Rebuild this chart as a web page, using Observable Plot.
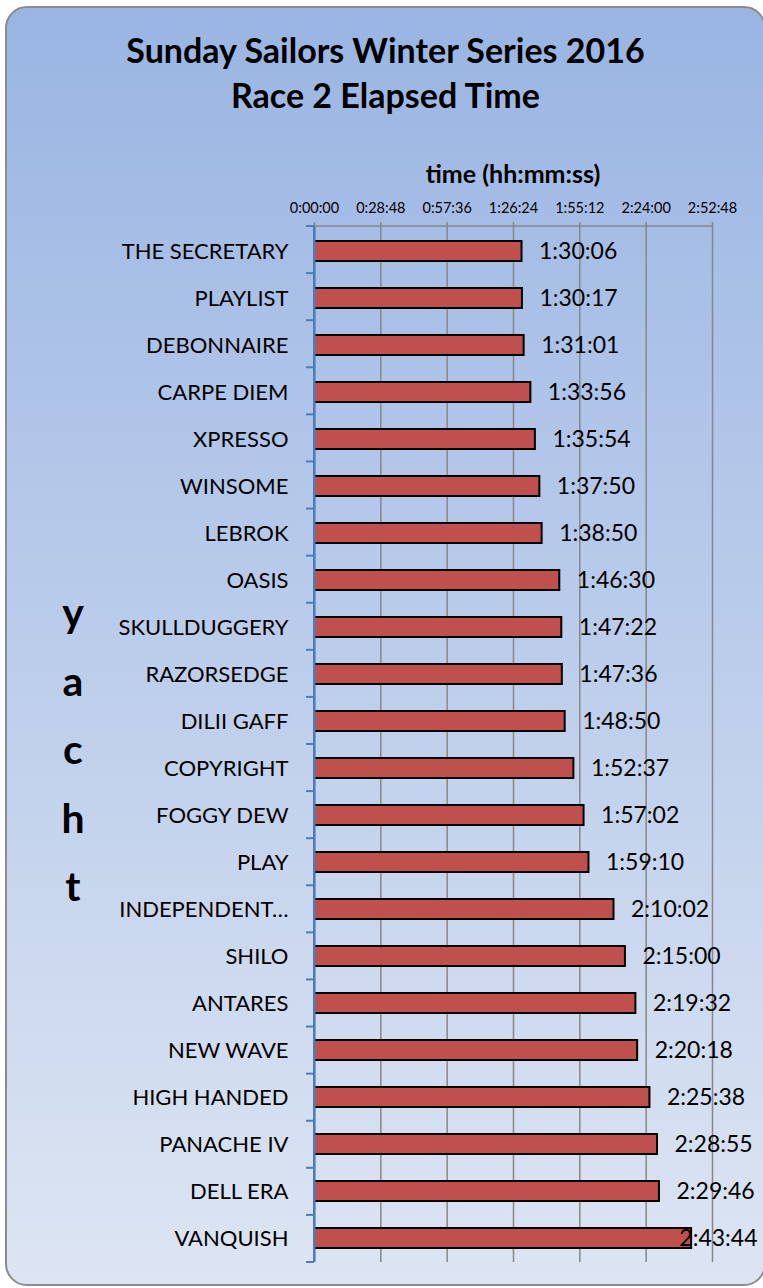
<!DOCTYPE html>
<html><head><meta charset="utf-8">
<script src="https://cdn.jsdelivr.net/npm/d3@7"></script>
<script src="https://cdn.jsdelivr.net/npm/@observablehq/plot@0.6"></script>
<style>
html,body{margin:0;padding:0;width:763px;height:1288px;overflow:hidden;background:#fff;font-family:Lato,sans-serif;color:#000;}
#card{position:absolute;left:5px;top:6px;width:761px;height:1280px;box-sizing:border-box;border:2px solid #8c8c8c;border-radius:22px;background:linear-gradient(to bottom,#9AB5E3 0%,#DDE5F3 100%);}
#title{position:absolute;left:5px;width:761px;top:27px;text-align:center;font-weight:700;font-size:34px;line-height:45px;}
#xlabel{position:absolute;left:313px;width:400px;top:158px;text-align:center;font-weight:700;font-size:25px;line-height:1.2;}
#ylabel{position:absolute;left:53px;width:40px;top:578px;text-align:center;font-weight:700;font-size:41px;line-height:68.5px;}
#chart{position:absolute;left:0;top:150px;}
</style>
</head><body>
<div id="card"></div>
<div id="title">Sunday Sailors Winter Series 2016<br>Race 2 Elapsed Time</div>
<div id="xlabel">time (hh:mm:ss)</div>
<div id="ylabel">y<br>a<br>c<br>h<br>t</div>
<div id="chart"></div>
<script>
const yachts = ["THE SECRETARY","PLAYLIST","DEBONNAIRE","CARPE DIEM","XPRESSO","WINSOME","LEBROK","OASIS","SKULLDUGGERY","RAZORSEDGE","DILII GAFF","COPYRIGHT","FOGGY DEW","PLAY","INDEPENDENT…","SHILO","ANTARES","NEW WAVE","HIGH HANDED","PANACHE IV","DELL ERA","VANQUISH"];
const times = ["1:30:06","1:30:17","1:31:01","1:33:56","1:35:54","1:37:50","1:38:50","1:46:30","1:47:22","1:47:36","1:48:50","1:52:37","1:57:02","1:59:10","2:10:02","2:15:00","2:19:32","2:20:18","2:25:38","2:28:55","2:29:46","2:43:44"];
const tickLabels = ["0:00:00","0:28:48","0:57:36","1:26:24","1:55:12","2:24:00","2:52:48"];

const toSec = s => { const [h,m,x] = s.split(":").map(Number); return h*3600 + m*60 + x; };
const tickVals = tickLabels.map(toSec);
const data = yachts.map((y,i) => ({yacht: y, label: times[i], sec: toSec(times[i])}));

const W = 763, H = 1130, mL = 314, mR = 51, mT = 76, mB = 18;
const xMax = tickVals[tickVals.length-1];
const px = s => mL + s / xMax * (W - mL - mR);
const overflow = d => px(d.sec) + 17 + 80 > W - 6;

const grid = "#878787", blue = "#4A7EBB";
const plot = Plot.plot({
  width: W, height: H,
  marginLeft: mL, marginRight: mR, marginTop: mT, marginBottom: mB,
  style: {background: "transparent", fontFamily: "Lato, sans-serif", fontSize: "22px", color: "#000"},
  x: {domain: [0, xMax]},
  y: {domain: yachts, paddingInner: 0.575, paddingOuter: 0.2875},
  marks: [
    Plot.ruleX(tickVals, {stroke: grid, strokeWidth: 1.5}),
    Plot.axisX({anchor: "top", ticks: tickVals, tickFormat: v => tickLabels[tickVals.indexOf(v)], tickSize: 5, tickPadding: 9, fontSize: 14.5, stroke: grid, strokeWidth: 1.5, color: "#000", label: null}),
    Plot.axisY({tickSize: 0, tickPadding: 26, fontSize: 22, label: null, color: "#000"}),
    Plot.barX(data, {x: "sec", y: "yacht", fill: "#C0504D", stroke: "#000", strokeWidth: 2}),
    Plot.ruleX([0], {stroke: blue, strokeWidth: 2}),
    Plot.text(data.filter(d => !overflow(d)), {x: "sec", y: "yacht", text: "label", textAnchor: "start", dx: 17, fontSize: 23, fill: "#000"}),
    Plot.text(data.filter(overflow), {y: "yacht", frameAnchor: "right", text: "label", textAnchor: "end", dx: 45, fontSize: 23, fill: "#000"})
  ]
});

// Excel-style decorations derived from the plot's own scales
const xs = plot.scale("x"), ys = plot.scale("y");
const svg = d3.select(plot.tagName.toLowerCase() === "svg" ? plot : plot.querySelector("svg"));
const [y0, y1] = ys.range;
const x0 = xs.apply(0), x1 = xs.apply(xMax);
const g = svg.append("g");
g.append("line").attr("x1", x0).attr("x2", x1).attr("y1", y0).attr("y2", y0)
  .attr("stroke", grid).attr("stroke-width", 1.5);
const n = yachts.length;
for (let i = 0; i <= n; i++) {
  const yy = y0 + (y1 - y0) * i / n;
  g.append("line").attr("x1", x0 - 8).attr("x2", x0).attr("y1", yy).attr("y2", yy)
    .attr("stroke", blue).attr("stroke-width", 2);
}
g.append("line").attr("x1", x0).attr("x2", x0).attr("y1", y0).attr("y2", y1)
  .attr("stroke", blue).attr("stroke-width", 2);
document.getElementById("chart").appendChild(plot);
</script>
</body></html>
